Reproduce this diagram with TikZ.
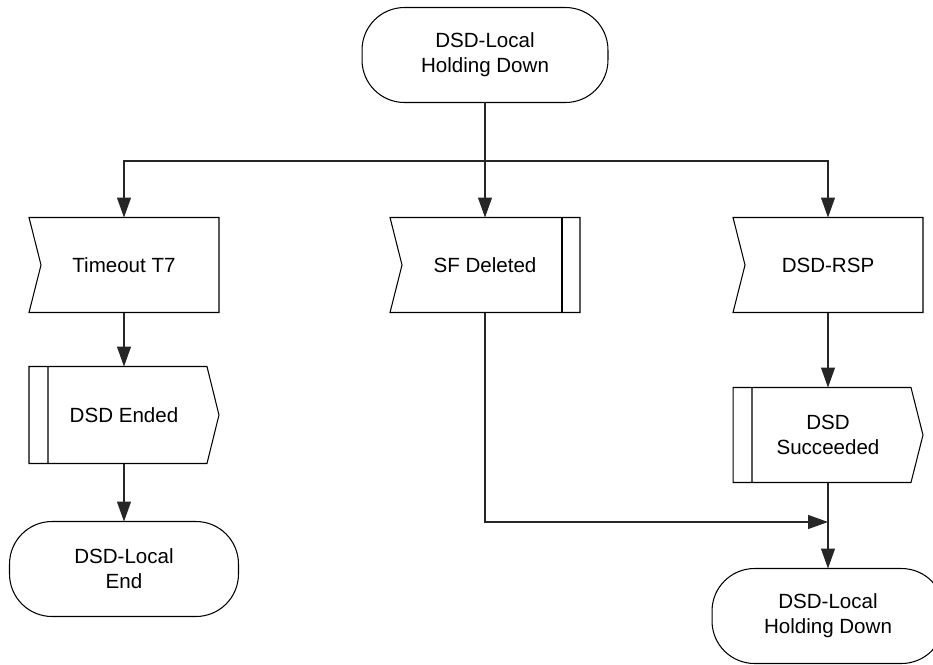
\documentclass[tikz,border=0pt]{standalone}
\usepackage{fontspec}
\setmainfont{Liberation Sans}
\usepackage{tikz}
\usetikzlibrary{arrows.meta,calc,positioning}
\tikzset{
  >={Triangle[length=0.4cm,width=0.28cm]},
  sline/.style={draw=black, line width=0.6pt},
  sflow/.style={->, black!85, line width=0.6pt},
  stext/.style={font=\fontsize{11.7}{14.2}\selectfont, align=center,
                inner sep=0pt, outer sep=0pt},
  sstate/.style={stext, rectangle, rounded corners=0.85cm, sline,
                 minimum height=1.9cm},
  sbox/.style={stext, minimum width=3.8cm, minimum height=1.9cm},
}

\begin{document}
\begin{tikzpicture}[x=0.02cm,y=-0.02cm]
  \useasboundingbox (0,0) rectangle (933,664);

  % --- Zustaende ---
  \node[sstate, minimum width=4.92cm] (top) at (485,55) {DSD-Local\\Holding Down};
  \node[sstate, minimum width=4.58cm] (lend) at (124,569) {DSD-Local\\End};
  \node[sstate, minimum width=4.64cm] (hold) at (828,616) {DSD-Local\\Holding Down};

  % --- Eingangssignale ---
  \node[sbox] (tmo) at (124,265) {Timeout T7};
  \node[sbox] (sfd) at (485,265) {SF Deleted};
  \node[sbox] (rsp) at (828,265) {DSD-RSP};
  \foreach \n in {tmo,sfd,rsp}
    \draw[sline] (\n.north west) -- (\n.north east) -- (\n.south east)
      -- (\n.south west) -- ([xshift=0.24cm]\n.west) -- cycle;
  \draw[sline] ([xshift=-0.36cm]sfd.north east) -- ([xshift=-0.36cm]sfd.south east);

  % --- Ausgangssignale ---
  \node[sbox, minimum height=1.94cm] (dend) at (124,415) {DSD Ended};
  \node[sbox] (suc) at (828,435) {DSD\\Succeeded};
  \foreach \n in {dend,suc}
    \draw[sline] (\n.north west) -- ([xshift=-0.24cm]\n.north east) -- (\n.east)
      -- ([xshift=-0.24cm]\n.south east) -- (\n.south west) -- cycle
      ([xshift=0.38cm]\n.north west) -- ([xshift=0.38cm]\n.south west);

  % --- Verbindungen ---
  \coordinate (split) at (485,161);
  \coordinate (merge) at (828,522);
  \draw[sflow] (top.south) -- (sfd.north);
  \draw[sflow] (split) -| (tmo.north);
  \draw[sflow] (split) -| (rsp.north);
  \draw[sflow] (tmo.south) -- (dend.north);
  \draw[sflow] (dend.south) -- (lend.north);
  \draw[sflow] (rsp.south) -- (suc.north);
  \draw[sflow] (sfd.south) |- (merge);
  \draw[sflow] (suc.south) -- (hold.north);

\end{tikzpicture}
\end{document}
